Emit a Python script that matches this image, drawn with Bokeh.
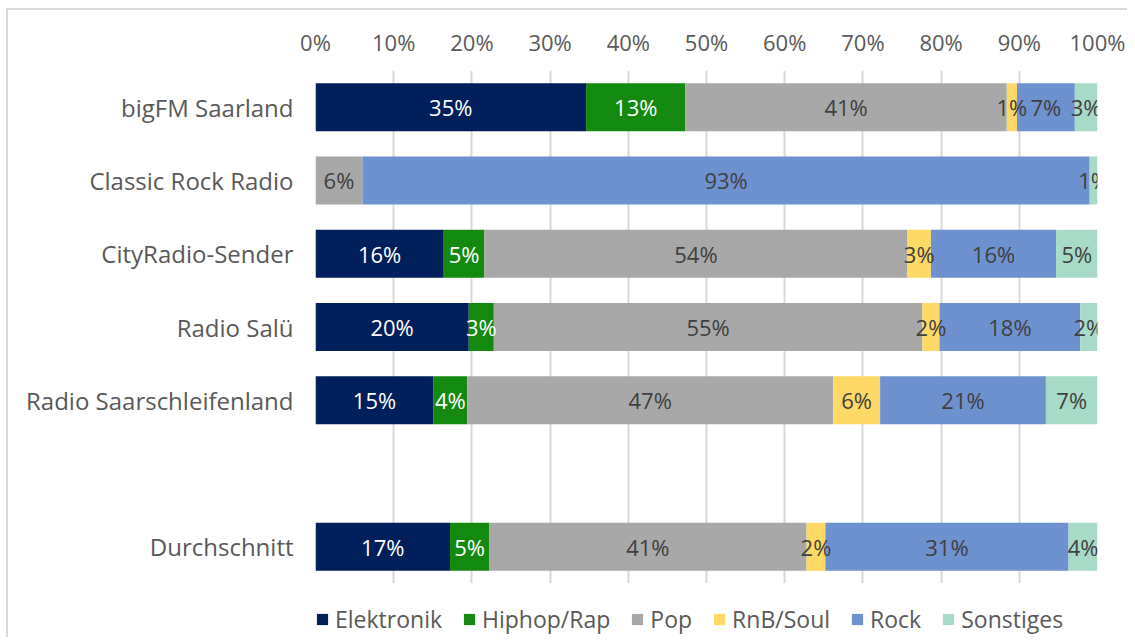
from bokeh.plotting import figure
from bokeh.layouts import column
from bokeh.models import ColumnDataSource, FactorRange, Range1d, Legend, LegendItem, FixedTicker
from bokeh.core.properties import value
from bokeh.embed import file_html
from bokeh.resources import INLINE

stations = ["bigFM Saarland", "Classic Rock Radio", "CityRadio-Sender", "Radio Salü",
            "Radio Saarschleifenland", " ", "Durchschnitt"]
genres = ["Elektronik", "Hiphop/Rap", "Pop", "RnB/Soul", "Rock", "Sonstiges"]
elektronik = [34.6, 0, 16.4, 19.6, 15.1, 0, 17.2]
hiphop = [12.7, 0, 5.2, 3.2, 4.3, 0, 5.0]
pop = [41.1, 6.0, 54.1, 54.8, 46.8, 0, 40.6]
rnb = [1.3, 0, 3.0, 2.2, 6.0, 0, 2.4]
rock = [7.4, 93.0, 16.0, 18.0, 21.2, 0, 31.1]
sonstiges = [2.9, 1.0, 5.3, 2.2, 6.6, 0, 3.7]
ticks = [0, 10, 20, 30, 40, 50, 60, 70, 80, 90, 100]
tick_labels = ["0%", "10%", "20%", "30%", "40%", "50%", "60%", "70%", "80%", "90%", "100%"]

colors = ["#001F5B", "#138A0F", "#A8A8A8", "#FFD966", "#6E91D0", "#A7DAC7"]
text_colors = ["#FFFFFF", "#FFFFFF", "#404040", "#404040", "#404040", "#404040"]
series = [elektronik, hiphop, pop, rnb, rock, sonstiges]
FONT = "Open Sans"

data = {"station": stations}
for g, s in zip(genres, series):
    data[g] = s
source = ColumnDataSource(data)

p = figure(frame_width=782, frame_height=513, output_backend="svg", toolbar_location=None,
           y_range=FactorRange(factors=list(reversed(stations)), range_padding=0),
           x_range=Range1d(0, 100), x_axis_location="above",
           min_border_left=307, min_border_right=30, min_border_top=60, min_border_bottom=0)

renderers = p.hbar_stack(genres, y="station", height=0.655, color=colors, source=source,
                         line_color=None)

# data labels
lx, ly, lt, lc = [], [], [], []
for i, st in enumerate(stations):
    cum = 0.0
    for s, tc in zip(series, text_colors):
        v = s[i]
        if v > 0:
            lx.append(cum + v / 2)
            ly.append(st)
            lt.append(f"{v:.0f}%")
            lc.append(tc)
        cum += v
lsrc = ColumnDataSource(dict(x=lx, y=ly, t=lt, c=lc))
p.text(x="x", y="y", text="t", text_color="c", source=lsrc, text_align="center",
       text_baseline="middle", text_font=value(FONT), text_font_size="22px")

p.outline_line_color = None
p.ygrid.grid_line_color = None
p.xgrid.grid_line_color = "#D9D9D9"
p.xgrid.grid_line_width = 2
p.xaxis.ticker = FixedTicker(ticks=ticks)
p.xaxis.major_label_overrides = {t: l for t, l in zip(ticks, tick_labels)}
for ax in (p.xaxis[0], p.yaxis[0]):
    ax.axis_line_color = None
    ax.major_tick_line_color = None
    ax.minor_tick_line_color = None
    ax.major_tick_out = 0
    ax.major_tick_in = 0
    ax.major_label_text_font = FONT
    ax.major_label_text_color = "#595959"
p.xaxis.major_label_text_font_size = "22px"
p.xaxis.major_label_standoff = 14
p.yaxis.major_label_text_font_size = "24px"
p.yaxis.major_label_standoff = 22

# legend strip below the chart (frame aligned with the chart's frame)
lf = figure(frame_width=782, height=54, output_backend="svg", toolbar_location=None,
            x_range=Range1d(0, 1), y_range=Range1d(0, 1), x_axis_type=None, y_axis_type=None,
            min_border_left=307, min_border_right=30, min_border_top=0, min_border_bottom=0)
lf.outline_line_color = None
lf.grid.visible = False
# zero-width swatch renderers: they only supply the legend's colour boxes
swatches = [lf.hbar(y=[0.5], left=[0], right=[0], height=0.5, color=c, line_color=None)
            for c in colors]
legend = Legend(items=[LegendItem(label=g, renderers=[r]) for g, r in zip(genres, swatches)],
                orientation="horizontal", location=(0, 2), padding=0, margin=0,
                spacing=20, label_standoff=6, glyph_width=14, glyph_height=14,
                label_text_font=FONT, label_text_font_size="23px", label_text_color="#595959",
                border_line_color=None, background_fill_alpha=0)
lf.add_layout(legend, "center")

layout = column(p, lf, spacing=0,
                styles={"border-left": "2px solid #D9D9D9", "border-top": "2px solid #D9D9D9",
                        "margin-left": "6px", "margin-top": "8px"})

open("out.html", "w").write(file_html(layout, INLINE))
